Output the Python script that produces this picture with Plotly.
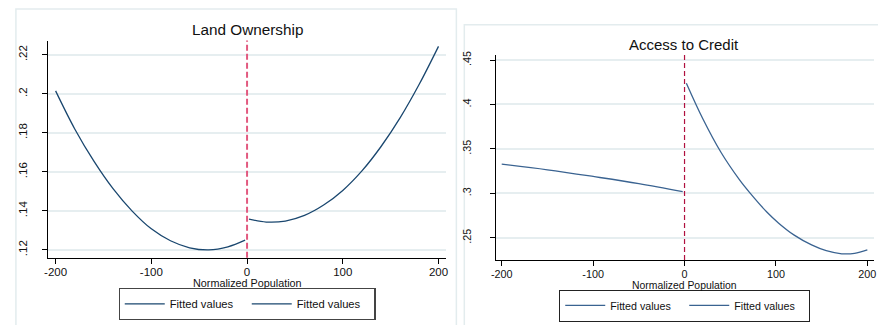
import plotly.graph_objects as go

# ---------------- data ----------------
# Land Ownership
land_left_x = [-200, -180, -160, -140, -120, -100, -80, -60, -40, -20, -2]
land_left_y = [0.2015, 0.1820, 0.1655, 0.1514, 0.1399, 0.1308, 0.1247, 0.1211, 0.1200, 0.1216, 0.1250]
land_right_x = [2, 20, 40, 60, 80, 100, 120, 140, 160, 180, 200]
land_right_y = [0.1358, 0.1343, 0.1348, 0.1377, 0.1430, 0.1505, 0.1605, 0.1730, 0.1878, 0.2050, 0.2243]

# Access to Credit
cred_left_x = [-200, -150, -100, -50, -2]
cred_left_y = [0.3328, 0.3265, 0.3190, 0.3110, 0.3020]
cred_right_x = [2, 20, 40, 60, 72, 90, 103, 120, 139, 155, 172, 186, 200]
cred_right_y = [0.424, 0.384, 0.346, 0.3155, 0.300, 0.279, 0.2665, 0.253, 0.242, 0.2355, 0.232, 0.2325, 0.2363]

x_ticks = [-200, -100, 0, 100, 200]
x_ticktext = ["-200", "-100", "0", "100", "200"]
land_yticks = [0.12, 0.14, 0.16, 0.18, 0.20, 0.22]
land_yticktext = [".12", ".14", ".16", ".18", ".2", ".22"]
cred_yticks = [0.25, 0.30, 0.35, 0.40, 0.45]
cred_yticktext = [".25", ".3", ".35", ".4", ".45"]

titles = ["Land Ownership", "Access to Credit"]
legend_label = "Fitted values"
xtitle = "Normalized Population"

# ---------------- layout helpers ----------------
W, H = 878, 325
FONT = "Liberation Sans, Arial, sans-serif"
NAVY = "#1a476f"
NAVY2 = "#3a6391"
GRID = "#e6eef0"


def px(x):
    return x / W


def py(y):
    return 1 - y / H


fig = go.Figure()

fig.add_trace(go.Scatter(x=land_left_x, y=land_left_y, mode="lines", name=legend_label,
                         line=dict(color=NAVY, width=1.3, shape="spline"),
                         xaxis="x", yaxis="y", legend="legend"))
fig.add_trace(go.Scatter(x=land_right_x, y=land_right_y, mode="lines", name=legend_label,
                         line=dict(color=NAVY, width=1.3, shape="spline"),
                         xaxis="x", yaxis="y", legend="legend"))
fig.add_trace(go.Scatter(x=cred_left_x, y=cred_left_y, mode="lines", name=legend_label,
                         line=dict(color=NAVY2, width=1.3, shape="spline"),
                         xaxis="x2", yaxis="y2", legend="legend2"))
fig.add_trace(go.Scatter(x=cred_right_x, y=cred_right_y, mode="lines", name=legend_label,
                         line=dict(color=NAVY2, width=1.3, shape="spline"),
                         xaxis="x2", yaxis="y2", legend="legend2"))

axis_common = dict(showline=True, linecolor="#000000", linewidth=1.2, ticks="outside",
                   ticklen=5, tickcolor="#000000", tickwidth=1, zeroline=False)

fig.update_layout(
    width=W, height=H,
    margin=dict(l=0, r=0, t=0, b=0),
    paper_bgcolor="white", plot_bgcolor="white",
    font=dict(family=FONT, color="#111111", size=11),
    xaxis=dict(domain=[px(43), px(445)], range=[-208.3, 208.3], anchor="y",
               tickvals=x_ticks, ticktext=x_ticktext, showgrid=False,
               tickfont=dict(size=11.5), ticklabelstandoff=-2, **axis_common),
    yaxis=dict(domain=[py(257), py(37)], range=[0.11595, 0.2273], anchor="x",
               tickvals=land_yticks, ticktext=land_yticktext, tickangle=-90,
               showgrid=True, gridcolor=GRID, gridwidth=1.5, ticklabelstandoff=10,
               tickfont=dict(size=11.5), **axis_common),
    xaxis2=dict(domain=[px(495), px(876)], range=[-206.2, 207.3], anchor="y2",
                tickvals=x_ticks, ticktext=x_ticktext, showgrid=False,
                tickfont=dict(size=10.8), ticklabelstandoff=-1, **axis_common),
    yaxis2=dict(domain=[py(259.3), py(51.7)], range=[0.2249, 0.4556], anchor="x2",
                tickvals=cred_yticks, ticktext=cred_yticktext, tickangle=-90,
                showgrid=True, gridcolor=GRID, gridwidth=1.5, ticklabelstandoff=15,
                tickfont=dict(size=10.8), **axis_common),
    legend=dict(orientation="h", x=px(244), y=py(304), xanchor="center", yanchor="middle",
                bordercolor="#444444", borderwidth=1.2, bgcolor="white",
                font=dict(size=11.2), itemwidth=40, tracegroupgap=0,
                entrywidth=72, entrywidthmode="pixels"),
    legend2=dict(orientation="h", x=px(685), y=py(305.5), xanchor="center", yanchor="middle",
                 bordercolor="#222222", borderwidth=1.2, bgcolor="white",
                 font=dict(size=10.7), itemwidth=40, tracegroupgap=0,
                 entrywidth=69, entrywidthmode="pixels"),
    showlegend=True,
)

# panel frames
fig.add_shape(type="rect", xref="paper", yref="paper", x0=px(11), x1=px(455), y0=py(330), y1=py(5),
              line=dict(color="#e3ecee", width=1.5), fillcolor="rgba(0,0,0,0)", layer="below")
fig.add_shape(type="rect", xref="paper", yref="paper", x0=px(463), x1=px(885), y0=py(330), y1=py(21),
              line=dict(color="#e3ecee", width=1.5), fillcolor="rgba(0,0,0,0)", layer="below")

# cutoff lines
fig.add_shape(type="line", xref="x", yref="paper", x0=0, x1=0, y0=py(257), y1=py(37),
              line=dict(color="#e2597f", width=2, dash="6px,3px"))
fig.add_shape(type="line", xref="x2", yref="paper", x0=0, x1=0, y0=py(259.3), y1=py(51.7),
              line=dict(color="#b0103f", width=1.2, dash="5px,3px"))

# titles
fig.add_annotation(text=titles[0], xref="paper", yref="paper", x=px(244), y=py(26),
                   xanchor="center", yanchor="middle", showarrow=False,
                   font=dict(size=15.3, color="#111111"))
fig.add_annotation(text=titles[1], xref="paper", yref="paper", x=px(684), y=py(41),
                   xanchor="center", yanchor="middle", showarrow=False,
                   font=dict(size=15, color="#111111"))

# x-axis titles
fig.add_annotation(text=xtitle, xref="paper", yref="paper", x=px(244), y=py(282.5),
                   xanchor="center", yanchor="middle", showarrow=False,
                   font=dict(size=10.8, color="#111111"))
fig.add_annotation(text=xtitle, xref="paper", yref="paper", x=px(685), y=py(285.5),
                   xanchor="center", yanchor="middle", showarrow=False,
                   font=dict(size=10.4, color="#111111"))

fig.write_html("out.html")
